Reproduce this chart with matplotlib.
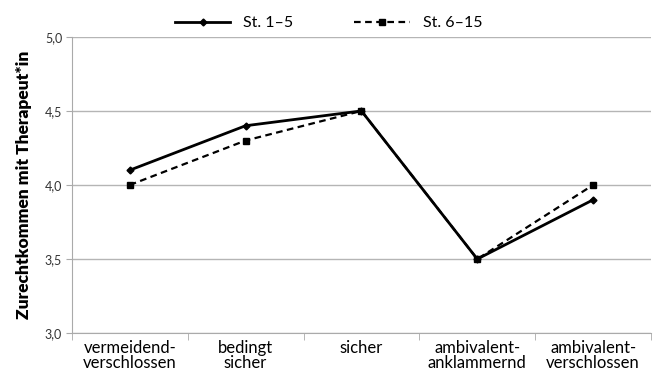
import numpy as np
import matplotlib.pyplot as plt

categories = ['vermeidend-\nverschlossen', 'bedingt\nsicher', 'sicher',
              'ambivalent-\nanklammernd', 'ambivalent-\nverschlossen']
st_1_5 = [4.1, 4.4, 4.5, 3.5, 3.9]
st_6_15 = [4.0, 4.3, 4.5, 3.5, 4.0]
y_ticks = [3.0, 3.5, 4.0, 4.5, 5.0]
y_labels = ['3,0', '3,5', '4,0', '4,5', '5,0']

plt.rcParams['font.family'] = ['Lato', 'DejaVu Sans']

fig = plt.figure(figsize=(6.53, 3.76), dpi=100)
ax = fig.add_axes([0.110, 0.114, 0.887, 0.788])

x = np.arange(len(categories))
ax.plot(x, st_1_5, color='black', lw=2, marker='D', ms=3.5, label='St. 1–5')
ax.plot(x, st_6_15, color='black', lw=1.6, ls=(0, (3, 2)), marker='s', ms=5,
        label='St. 6–15')

ax.set_xlim(-0.5, len(categories) - 0.5)
ax.set_ylim(3.0, 5.0)
ax.set_yticks(y_ticks)
ax.set_yticklabels(y_labels, fontsize=9, color='#333333')
ax.set_xticks(x)
ax.set_xticklabels(categories, fontsize=12, linespacing=0.95)
ax.set_xticks(np.arange(-0.5, len(categories)), minor=True)
ax.tick_params(axis='x', which='major', length=0, pad=5)
ax.tick_params(axis='x', which='minor', length=5, color='#aaaaaa')
ax.tick_params(axis='y', length=4, color='#aaaaaa', pad=3)

ax.grid(axis='y', color='#b5b5b5', lw=1)
ax.set_axisbelow(True)
for s in ['top', 'right']:
    ax.spines[s].set_visible(False)
ax.spines['left'].set_color('#aaaaaa')
ax.spines['bottom'].set_color('#aaaaaa')

ax.set_ylabel('Zurechtkommen mit Therapeut*in', fontsize=12.5, fontweight='heavy', labelpad=9)

ax.legend(loc='lower center', bbox_to_anchor=(0.443, 0.99), ncol=2, frameon=False,
          fontsize=11.5, handlelength=3.5, columnspacing=3.8, borderaxespad=0.2)

fig.savefig('out.png', dpi=100)
